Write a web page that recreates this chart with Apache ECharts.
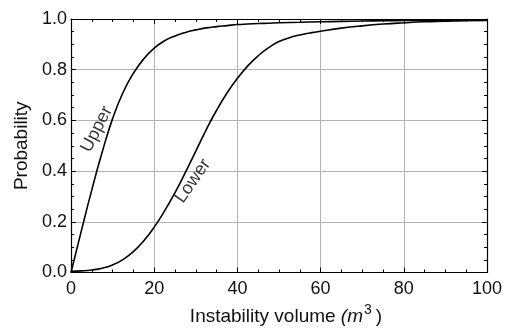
<!DOCTYPE html>
<html>
<head>
<meta charset="utf-8">
<script src="https://cdn.jsdelivr.net/npm/echarts@6/dist/echarts.min.js"></script>
<style>
html,body{margin:0;padding:0;background:#fff;}
#chart{width:510px;height:331px;}
</style>
</head>
<body>
<div id="chart"></div>
<script>
// Data
var upperX = [0,2.5,5,7.5,10,12.5,15,17.5,20,22.5,25,27.5,30,32.5,35,37.5,40,42.5,45,47.5,50,55,60,65,70,75,80,85,90,95,100];
var upperY = [0,0.165,0.326,0.475,0.607,0.710,0.786,0.843,0.885,0.914,0.933,0.947,0.957,0.965,0.970,0.974,0.978,0.980,0.982,0.9835,0.985,0.987,0.989,0.9905,0.992,0.993,0.994,0.9945,0.995,0.9955,0.996];
var lowerX = [0,2.5,5,7.5,10,12.5,15,17.5,20,22.5,25,27.5,30,32.5,35,37.5,40,42.5,45,47.5,50,52.5,55,57.5,60,65,70,75,80,85,90,95,100];
var lowerY = [0.005,0.0065,0.010,0.017,0.030,0.051,0.082,0.125,0.179,0.243,0.315,0.395,0.479,0.563,0.640,0.708,0.766,0.815,0.855,0.887,0.911,0.926,0.937,0.945,0.952,0.964,0.973,0.980,0.985,0.989,0.991,0.993,0.994];
var xTicks = [0,20,40,60,80,100];
var yTicks = [0,0.2,0.4,0.6,0.8,1.0];
var curveLabels = ['Upper','Lower'];
var labelAt = [[6.2,0.565],[29.3,0.361]];
var labelAngle = [63,55];

function pairs(xs, ys){ return xs.map(function(x,i){ return [x, ys[i]]; }); }

var FONT = '"Liberation Sans", Arial, sans-serif';
function frameAxis(extra){
  return Object.assign({
    axisLine:{show:true,onZero:false,lineStyle:{color:'#000',width:1.2}},
    axisTick:{show:true,inside:true,length:5,lineStyle:{color:'#000',width:1}},
    minorTick:{show:true,splitNumber:4,length:3,lineStyle:{color:'#000',width:1}}
  }, extra);
}

var chart = echarts.init(document.getElementById('chart'), null, {renderer:'canvas'});
chart.setOption({
  animation:false,
  backgroundColor:'#fff',
  grid:{left:71,right:23,top:19,bottom:57},
  xAxis:[
    frameAxis({
      type:'value', min:xTicks[0], max:xTicks[xTicks.length-1], interval:20, position:'bottom',
      axisLabel:{fontFamily:FONT,fontSize:18,color:'#111',margin:8},
      splitLine:{show:true,lineStyle:{color:'#b3b3b3',width:1}},
      name:'{a|Instability volume }{i|(m}{s|3}{a|)}',
      nameLocation:'middle', nameGap:31,
      nameTextStyle:{
        padding:[0,0,0,14],
        rich:{
          a:{fontFamily:FONT,fontSize:19,color:'#111'},
          i:{fontFamily:FONT,fontSize:19,fontStyle:'italic',color:'#111'},
          s:{fontFamily:FONT,fontSize:14,color:'#111',padding:[0,4,12,1]}
        }
      }
    }),
    frameAxis({
      type:'value', min:0, max:100, interval:20, position:'top',
      axisLabel:{show:false}, splitLine:{show:false}
    })
  ],
  yAxis:[
    frameAxis({
      type:'value', min:yTicks[0], max:yTicks[yTicks.length-1], interval:0.2, position:'left',
      axisLabel:{fontFamily:FONT,fontSize:18,color:'#111',margin:4,formatter:function(v){return v.toFixed(1);}},
      splitLine:{show:true,lineStyle:{color:'#b3b3b3',width:1}},
      name:'Probability', nameLocation:'middle', nameGap:38,
      nameTextStyle:{fontFamily:FONT,fontSize:19,color:'#111'}
    }),
    frameAxis({
      type:'value', min:0, max:1, interval:0.2, position:'right',
      axisLabel:{show:false}, splitLine:{show:false}
    })
  ],
  series:[
    {type:'line', name:curveLabels[0], data:pairs(upperX, upperY), smooth:true,
     showSymbol:false, lineStyle:{color:'#000',width:1.6}, z:5},
    {type:'line', name:curveLabels[1], data:pairs(lowerX, lowerY), smooth:true,
     showSymbol:false, lineStyle:{color:'#000',width:1.6}, z:5},
    {type:'scatter', symbolSize:0, silent:true, z:6,
     data:curveLabels.map(function(t,i){
       return {value:labelAt[i], label:{show:true, formatter:t, position:'inside', rotate:labelAngle[i],
         fontFamily:FONT, fontSize:18, color:'#000'}};
     })}
  ]
});
</script>
</body>
</html>
